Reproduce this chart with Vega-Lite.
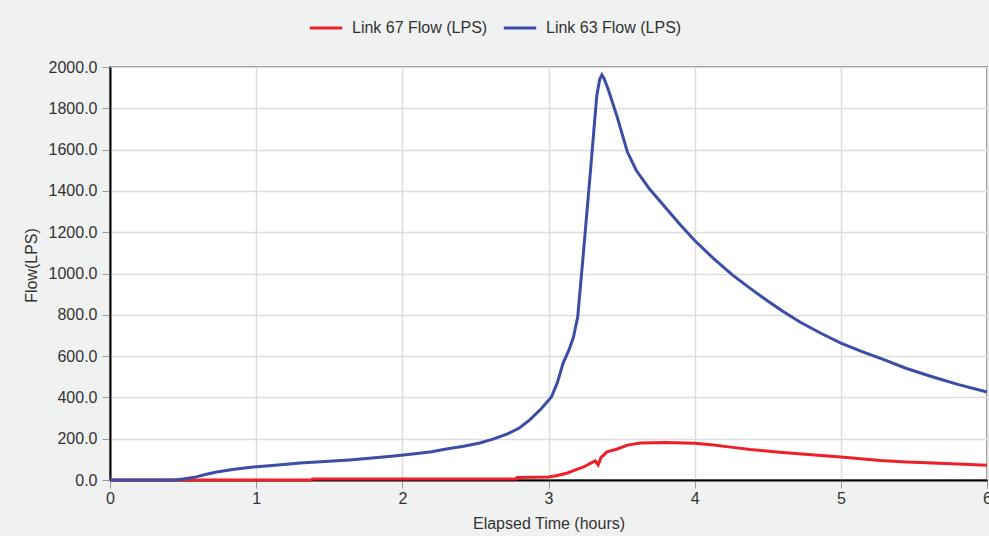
{
  "$schema": "https://vega.github.io/schema/vega-lite/v6.json",
  "width": 877,
  "height": 413,
  "autosize": {"type": "none"},
  "padding": {"left": 110, "top": 67, "right": 2, "bottom": 56},
  "background": "#f0f1f1",
  "config": {
    "font": "Liberation Sans",
    "view": {"stroke": "#8c8c8c", "strokeWidth": 2, "fill": "white"},
    "legend": {
      "orient": "none",
      "legendX": 198,
      "legendY": -57,
      "direction": "horizontal",
      "symbolType": "stroke",
      "symbolStrokeWidth": 3,
      "symbolSize": 1050,
      "labelFontSize": 16,
      "labelColor": "#333333",
      "labelOffset": 8,
      "columnPadding": 9
    }
  },
  "data": {
    "values": [
      {"t": 0, "flow": 0, "series": "Link 67 Flow (LPS)"},
      {"t": 1.38, "flow": 0, "series": "Link 67 Flow (LPS)"},
      {"t": 1.385, "flow": 5, "series": "Link 67 Flow (LPS)"},
      {"t": 2.78, "flow": 5, "series": "Link 67 Flow (LPS)"},
      {"t": 2.785, "flow": 12, "series": "Link 67 Flow (LPS)"},
      {"t": 3.0, "flow": 15, "series": "Link 67 Flow (LPS)"},
      {"t": 3.06, "flow": 22, "series": "Link 67 Flow (LPS)"},
      {"t": 3.13, "flow": 34, "series": "Link 67 Flow (LPS)"},
      {"t": 3.18, "flow": 48, "series": "Link 67 Flow (LPS)"},
      {"t": 3.24, "flow": 63, "series": "Link 67 Flow (LPS)"},
      {"t": 3.30, "flow": 85, "series": "Link 67 Flow (LPS)"},
      {"t": 3.32, "flow": 92, "series": "Link 67 Flow (LPS)"},
      {"t": 3.34, "flow": 73, "series": "Link 67 Flow (LPS)"},
      {"t": 3.36, "flow": 110, "series": "Link 67 Flow (LPS)"},
      {"t": 3.40, "flow": 136, "series": "Link 67 Flow (LPS)"},
      {"t": 3.47, "flow": 150, "series": "Link 67 Flow (LPS)"},
      {"t": 3.54, "flow": 169, "series": "Link 67 Flow (LPS)"},
      {"t": 3.63, "flow": 179, "series": "Link 67 Flow (LPS)"},
      {"t": 3.8, "flow": 181, "series": "Link 67 Flow (LPS)"},
      {"t": 4.0, "flow": 178, "series": "Link 67 Flow (LPS)"},
      {"t": 4.13, "flow": 169, "series": "Link 67 Flow (LPS)"},
      {"t": 4.26, "flow": 158, "series": "Link 67 Flow (LPS)"},
      {"t": 4.38, "flow": 148, "series": "Link 67 Flow (LPS)"},
      {"t": 4.56, "flow": 136, "series": "Link 67 Flow (LPS)"},
      {"t": 4.8, "flow": 122, "series": "Link 67 Flow (LPS)"},
      {"t": 5.0, "flow": 111, "series": "Link 67 Flow (LPS)"},
      {"t": 5.27, "flow": 94, "series": "Link 67 Flow (LPS)"},
      {"t": 5.45, "flow": 87, "series": "Link 67 Flow (LPS)"},
      {"t": 5.63, "flow": 82, "series": "Link 67 Flow (LPS)"},
      {"t": 5.8, "flow": 78, "series": "Link 67 Flow (LPS)"},
      {"t": 6.0, "flow": 72, "series": "Link 67 Flow (LPS)"},
      {"t": 0, "flow": 0, "series": "Link 63 Flow (LPS)"},
      {"t": 0.44, "flow": 0, "series": "Link 63 Flow (LPS)"},
      {"t": 0.5, "flow": 5, "series": "Link 63 Flow (LPS)"},
      {"t": 0.59, "flow": 15, "series": "Link 63 Flow (LPS)"},
      {"t": 0.66, "flow": 28, "series": "Link 63 Flow (LPS)"},
      {"t": 0.73, "flow": 39, "series": "Link 63 Flow (LPS)"},
      {"t": 0.85, "flow": 52, "series": "Link 63 Flow (LPS)"},
      {"t": 0.98, "flow": 63, "series": "Link 63 Flow (LPS)"},
      {"t": 1.15, "flow": 73, "series": "Link 63 Flow (LPS)"},
      {"t": 1.30, "flow": 82, "series": "Link 63 Flow (LPS)"},
      {"t": 1.47, "flow": 89, "series": "Link 63 Flow (LPS)"},
      {"t": 1.64, "flow": 97, "series": "Link 63 Flow (LPS)"},
      {"t": 1.85, "flow": 110, "series": "Link 63 Flow (LPS)"},
      {"t": 1.96, "flow": 118, "series": "Link 63 Flow (LPS)"},
      {"t": 2.07, "flow": 126, "series": "Link 63 Flow (LPS)"},
      {"t": 2.2, "flow": 137, "series": "Link 63 Flow (LPS)"},
      {"t": 2.30, "flow": 150, "series": "Link 63 Flow (LPS)"},
      {"t": 2.42, "flow": 163, "series": "Link 63 Flow (LPS)"},
      {"t": 2.53, "flow": 179, "series": "Link 63 Flow (LPS)"},
      {"t": 2.62, "flow": 198, "series": "Link 63 Flow (LPS)"},
      {"t": 2.72, "flow": 223, "series": "Link 63 Flow (LPS)"},
      {"t": 2.80, "flow": 252, "series": "Link 63 Flow (LPS)"},
      {"t": 2.87, "flow": 290, "series": "Link 63 Flow (LPS)"},
      {"t": 2.95, "flow": 345, "series": "Link 63 Flow (LPS)"},
      {"t": 3.02, "flow": 402, "series": "Link 63 Flow (LPS)"},
      {"t": 3.06, "flow": 470, "series": "Link 63 Flow (LPS)"},
      {"t": 3.10, "flow": 566, "series": "Link 63 Flow (LPS)"},
      {"t": 3.14, "flow": 630, "series": "Link 63 Flow (LPS)"},
      {"t": 3.17, "flow": 690, "series": "Link 63 Flow (LPS)"},
      {"t": 3.20, "flow": 790, "series": "Link 63 Flow (LPS)"},
      {"t": 3.24, "flow": 1110, "series": "Link 63 Flow (LPS)"},
      {"t": 3.29, "flow": 1520, "series": "Link 63 Flow (LPS)"},
      {"t": 3.33, "flow": 1860, "series": "Link 63 Flow (LPS)"},
      {"t": 3.35, "flow": 1940, "series": "Link 63 Flow (LPS)"},
      {"t": 3.365, "flow": 1962, "series": "Link 63 Flow (LPS)"},
      {"t": 3.38, "flow": 1945, "series": "Link 63 Flow (LPS)"},
      {"t": 3.41, "flow": 1889, "series": "Link 63 Flow (LPS)"},
      {"t": 3.47, "flow": 1758, "series": "Link 63 Flow (LPS)"},
      {"t": 3.54, "flow": 1588, "series": "Link 63 Flow (LPS)"},
      {"t": 3.60, "flow": 1500, "series": "Link 63 Flow (LPS)"},
      {"t": 3.69, "flow": 1410, "series": "Link 63 Flow (LPS)"},
      {"t": 3.80, "flow": 1320, "series": "Link 63 Flow (LPS)"},
      {"t": 3.90, "flow": 1237, "series": "Link 63 Flow (LPS)"},
      {"t": 4.0, "flow": 1160, "series": "Link 63 Flow (LPS)"},
      {"t": 4.13, "flow": 1072, "series": "Link 63 Flow (LPS)"},
      {"t": 4.26, "flow": 992, "series": "Link 63 Flow (LPS)"},
      {"t": 4.38, "flow": 928, "series": "Link 63 Flow (LPS)"},
      {"t": 4.49, "flow": 872, "series": "Link 63 Flow (LPS)"},
      {"t": 4.60, "flow": 818, "series": "Link 63 Flow (LPS)"},
      {"t": 4.72, "flow": 765, "series": "Link 63 Flow (LPS)"},
      {"t": 4.86, "flow": 712, "series": "Link 63 Flow (LPS)"},
      {"t": 5.0, "flow": 663, "series": "Link 63 Flow (LPS)"},
      {"t": 5.15, "flow": 620, "series": "Link 63 Flow (LPS)"},
      {"t": 5.29, "flow": 584, "series": "Link 63 Flow (LPS)"},
      {"t": 5.45, "flow": 540, "series": "Link 63 Flow (LPS)"},
      {"t": 5.63, "flow": 499, "series": "Link 63 Flow (LPS)"},
      {"t": 5.80, "flow": 463, "series": "Link 63 Flow (LPS)"},
      {"t": 6.0, "flow": 426, "series": "Link 63 Flow (LPS)"}
    ]
  },
  "encoding": {
    "x": {
      "field": "t",
      "type": "quantitative",
      "scale": {"domain": [0, 6], "nice": false},
      "axis": {
        "title": "Elapsed Time (hours)",
        "values": [0, 1, 2, 3, 4, 5, 6],
        "format": "d",
        "domainColor": "black",
        "domainWidth": 2,
        "tickColor": "#999999",
        "tickSize": 8,
        "labelPadding": 2,
        "labelFontSize": 16,
        "labelColor": "#333333",
        "labelFlush": false,
        "titleFontSize": 16,
        "titleFontWeight": "normal",
        "titleColor": "#333333",
        "titlePadding": 9,
        "gridColor": "#dddddd",
        "gridWidth": 1.5
      }
    },
    "y": {
      "field": "flow",
      "type": "quantitative",
      "scale": {"domain": [0, 2000], "nice": false},
      "axis": {
        "title": "Flow(LPS)",
        "values": [0, 200, 400, 600, 800, 1000, 1200, 1400, 1600, 1800, 2000],
        "format": ".1f",
        "domainColor": "black",
        "domainWidth": 2,
        "tickColor": "#999999",
        "tickSize": 8,
        "labelPadding": 5,
        "labelFontSize": 16,
        "labelColor": "#333333",
        "labelFlush": false,
        "titleFontSize": 16,
        "titleFontWeight": "normal",
        "titleColor": "#333333",
        "titlePadding": 9,
        "titleY": 198,
        "gridColor": "#dddddd",
        "gridWidth": 1.5
      }
    },
    "color": {
      "field": "series",
      "type": "nominal",
      "scale": {
        "domain": ["Link 67 Flow (LPS)", "Link 63 Flow (LPS)"],
        "range": ["#ef1f27", "#3a4ea6"]
      },
      "legend": {"title": null}
    }
  },
  "layer": [
    {
      "transform": [{"filter": "datum.series === 'Link 67 Flow (LPS)'"}],
      "mark": {"type": "line", "strokeWidth": 3}
    },
    {
      "transform": [{"filter": "datum.series === 'Link 63 Flow (LPS)'"}],
      "mark": {"type": "line", "strokeWidth": 3}
    }
  ]
}
